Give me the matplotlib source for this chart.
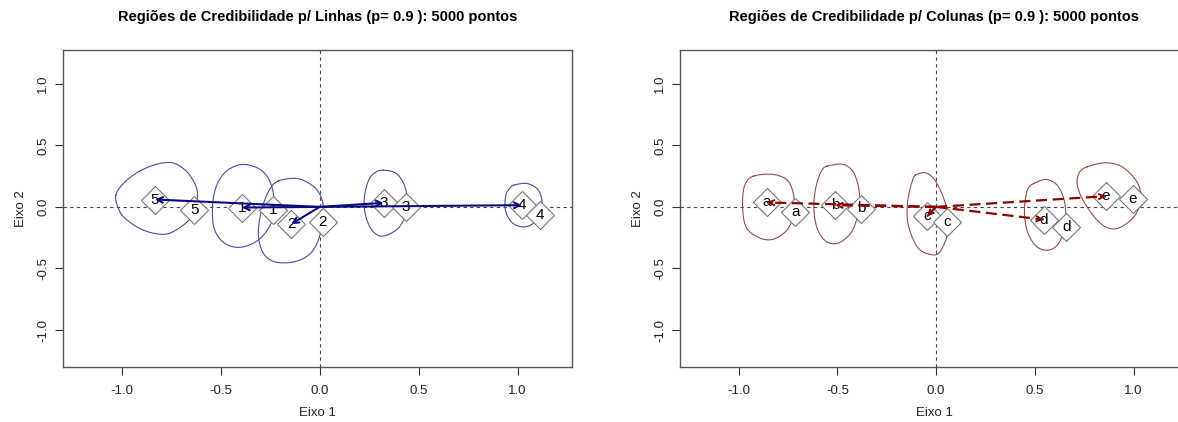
import matplotlib
matplotlib.use("Agg")
import matplotlib.pyplot as plt
import numpy as np

plt.rcParams['font.family'] = ['Liberation Sans', 'DejaVu Sans']

# ---------------- data ----------------
row_labels = ['1', '2', '3', '4', '5']
row_mean_x = [-0.393, -0.144, 0.323, 1.022, -0.832]
row_mean_y = [-0.005, -0.140, 0.033, 0.014, 0.060]
row_orig_x = [-0.234, 0.016, 0.436, 1.115, -0.633]
row_orig_y = [-0.027, -0.120, 0.000, -0.067, -0.027]

col_labels = ['a', 'b', 'c', 'd', 'e']
col_mean_x = [-0.856, -0.510, -0.046, 0.544, 0.860]
col_mean_y = [0.036, 0.014, -0.076, -0.103, 0.087]
col_orig_x = [-0.713, -0.380, 0.055, 0.658, 0.995]
col_orig_y = [-0.041, -0.013, -0.122, -0.163, 0.068]

# credibility region boundaries (x list, y list) for each row / column
row_region_1_x = [-0.385, -0.309, -0.259, -0.234, -0.230, -0.250, -0.301, -0.368, -0.436, -0.495, -0.533, -0.542, -0.533, -0.503, -0.452]
row_region_1_y = [0.345, 0.312, 0.231, 0.109, -0.027, -0.149, -0.257, -0.317, -0.325, -0.276, -0.176, -0.041, 0.109, 0.231, 0.312]
row_region_2_x = [-0.208, -0.115, -0.039, 0.003, 0.019, 0.011, -0.014, -0.057, -0.132, -0.225, -0.284, -0.309, -0.304, -0.284, -0.250]
row_region_2_y = [0.211, 0.231, 0.176, 0.095, -0.013, -0.163, -0.298, -0.393, -0.447, -0.447, -0.379, -0.244, -0.108, 0.028, 0.149]
row_region_3_x = [0.323, 0.382, 0.420, 0.441, 0.437, 0.415, 0.373, 0.314, 0.272, 0.242, 0.225, 0.230, 0.252, 0.286]
row_region_3_y = [0.298, 0.277, 0.203, 0.095, -0.027, -0.135, -0.203, -0.238, -0.203, -0.122, 0.000, 0.122, 0.231, 0.285]
row_region_4_x = [0.980, 1.047, 1.098, 1.120, 1.123, 1.106, 1.073, 1.030, 0.983, 0.951, 0.936, 0.941, 0.955]
row_region_4_y = [0.176, 0.190, 0.149, 0.081, 0.000, -0.081, -0.141, -0.163, -0.141, -0.081, 0.000, 0.095, 0.141]
row_region_5_x = [-1.030, -1.017, -0.983, -0.891, -0.781, -0.697, -0.641, -0.618, -0.624, -0.663, -0.714, -0.764, -0.840, -0.924, -0.992]
row_region_5_y = [0.095, -0.013, -0.094, -0.189, -0.222, -0.157, -0.067, 0.054, 0.163, 0.271, 0.339, 0.361, 0.339, 0.277, 0.190]

col_region_a_x = [-0.924, -0.839, -0.764, -0.730, -0.718, -0.730, -0.764, -0.831, -0.899, -0.958, -0.978, -0.978, -0.961]
col_region_a_y = [0.250, 0.266, 0.231, 0.149, 0.027, -0.108, -0.203, -0.265, -0.249, -0.176, -0.054, 0.109, 0.203]
col_region_b_x = [-0.552, -0.476, -0.426, -0.397, -0.387, -0.401, -0.434, -0.494, -0.552, -0.595, -0.617, -0.617, -0.600, -0.578]
col_region_b_y = [0.331, 0.347, 0.298, 0.190, 0.054, -0.094, -0.216, -0.293, -0.285, -0.203, -0.067, 0.081, 0.217, 0.298]
col_region_c_x = [-0.105, -0.055, -0.013, 0.021, 0.047, 0.063, 0.060, 0.038, 0.005, -0.046, -0.089, -0.122, -0.144, -0.147, -0.136, -0.122]
col_region_c_y = [0.258, 0.277, 0.231, 0.136, 0.028, -0.081, -0.203, -0.311, -0.385, -0.379, -0.338, -0.244, -0.122, 0.000, 0.122, 0.203]
col_region_d_x = [0.494, 0.553, 0.604, 0.637, 0.654, 0.654, 0.637, 0.604, 0.561, 0.511, 0.473, 0.452, 0.447, 0.455, 0.468]
col_region_d_y = [0.190, 0.223, 0.190, 0.109, 0.000, -0.122, -0.244, -0.325, -0.352, -0.325, -0.244, -0.135, -0.013, 0.095, 0.158]
col_region_e_x = [0.764, 0.848, 0.924, 0.983, 1.025, 1.037, 1.017, 0.975, 0.916, 0.865, 0.815, 0.764, 0.727, 0.713, 0.727]
col_region_e_y = [0.325, 0.358, 0.339, 0.271, 0.176, 0.068, -0.041, -0.122, -0.176, -0.168, -0.108, 0.000, 0.109, 0.203, 0.285]

row_regions = [(row_region_1_x, row_region_1_y), (row_region_2_x, row_region_2_y),
               (row_region_3_x, row_region_3_y), (row_region_4_x, row_region_4_y),
               (row_region_5_x, row_region_5_y)]
col_regions = [(col_region_a_x, col_region_a_y), (col_region_b_x, col_region_b_y),
               (col_region_c_x, col_region_c_y), (col_region_d_x, col_region_d_y),
               (col_region_e_x, col_region_e_y)]

ticks = [-1.0, -0.5, 0.0, 0.5, 1.0]
tick_labels = ['-1.0', '-0.5', '0.0', '0.5', '1.0']
titles = ['Regiões de Credibilidade p/ Linhas (p= 0.9 ): 5000 pontos',
          'Regiões de Credibilidade p/ Colunas (p= 0.9 ): 5000 pontos']

# ---------------- figure ----------------
W, H = 1178, 422
fig = plt.figure(figsize=(W / 100, H / 100), dpi=100)
ax1 = fig.add_axes([63 / W, (H - 367) / H, 509 / W, 317 / H])
ax2 = fig.add_axes([680 / W, (H - 367) / H, 508 / W, 317 / H])


def smooth_closed(xs, ys, n=12):
    """Closed Catmull-Rom curve through the boundary points (drawing only)."""
    P = np.column_stack([xs, ys])
    k = len(P)
    out = []
    t = np.linspace(0, 1, n, endpoint=False)[:, None]
    for i in range(k):
        p0, p1, p2, p3 = P[i - 1], P[i], P[(i + 1) % k], P[(i + 2) % k]
        seg = 0.5 * ((2 * p1) + (-p0 + p2) * t + (2 * p0 - 5 * p1 + 4 * p2 - p3) * t ** 2
                     + (-p0 + 3 * p1 - 3 * p2 + p3) * t ** 3)
        out.append(seg)
    out = np.vstack(out)
    out = np.vstack([out, out[:1]])
    return out[:, 0], out[:, 1]


def style(ax, title):
    ax.set_xlim(-1.297, 1.275)
    ax.set_ylim(-1.30, 1.274)
    ax.set_xticks(ticks)
    ax.set_xticklabels(tick_labels)
    ax.set_yticks(ticks)
    ax.set_yticklabels(tick_labels, rotation=90, va='center')
    ax.tick_params(length=6, width=0.8, color='#333333', labelsize=9.5,
                   labelcolor='#222222')
    ax.tick_params(axis='x', pad=7)
    ax.tick_params(axis='y', pad=4)
    for s in ax.spines.values():
        s.set_color('#555555')
        s.set_linewidth(1.0)
    ax.set_xlabel('Eixo 1', fontsize=9.5, labelpad=7, color='#222222')
    ax.set_ylabel('Eixo 2', fontsize=9.5, labelpad=7, color='#222222')
    ax.set_title(title, fontsize=10.5, fontweight='bold', pad=21)
    ax.axhline(0, color='#444444', lw=0.8, ls=(0, (3, 3)), zorder=1)
    ax.axvline(0, color='#444444', lw=0.8, ls=(0, (3, 3)), zorder=1)


def draw(ax, regions, rcolor, labels, mx, my, ox, oy, acolor, dashed):
    for xs, ys in regions:
        sx, sy = smooth_closed(xs, ys)
        ax.plot(sx, sy, color=rcolor, lw=0.8, zorder=2)
    for lab, x0, y0, x1, y1 in zip(labels, mx, my, ox, oy):
        ax.plot([x0, x1], [y0, y1], ls='none', marker='D', ms=14, mfc='white',
                mec='#777777', mew=0.8, zorder=3)
        ax.text(x0, y0, lab, ha='center', va='center', fontsize=11, zorder=4)
        ax.text(x1, y1, lab, ha='center', va='center', fontsize=11, zorder=4)
    for x0, y0 in zip(mx, my):
        if dashed:
            ax.plot([0, x0], [0, y0], color=acolor, lw=1.6, ls=(0, (5, 2.5)), zorder=5)
            ax.annotate('', xy=(x0, y0), xytext=(0.97 * x0, 0.97 * y0),
                        arrowprops=dict(arrowstyle='->', color=acolor, lw=1.4,
                                        mutation_scale=9, shrinkA=0, shrinkB=0),
                        zorder=5)
        else:
            ax.annotate('', xy=(x0, y0), xytext=(0, 0),
                        arrowprops=dict(arrowstyle='->', color=acolor, lw=1.5,
                                        mutation_scale=10, shrinkA=0, shrinkB=0),
                        zorder=5)


style(ax1, titles[0])
style(ax2, titles[1])
draw(ax1, row_regions, '#4a4aa8', row_labels, row_mean_x, row_mean_y,
     row_orig_x, row_orig_y, '#0a0a80', False)
draw(ax2, col_regions, '#9b4a48', col_labels, col_mean_x, col_mean_y,
     col_orig_x, col_orig_y, '#8b0000', True)

fig.savefig('out.png', dpi=100)
